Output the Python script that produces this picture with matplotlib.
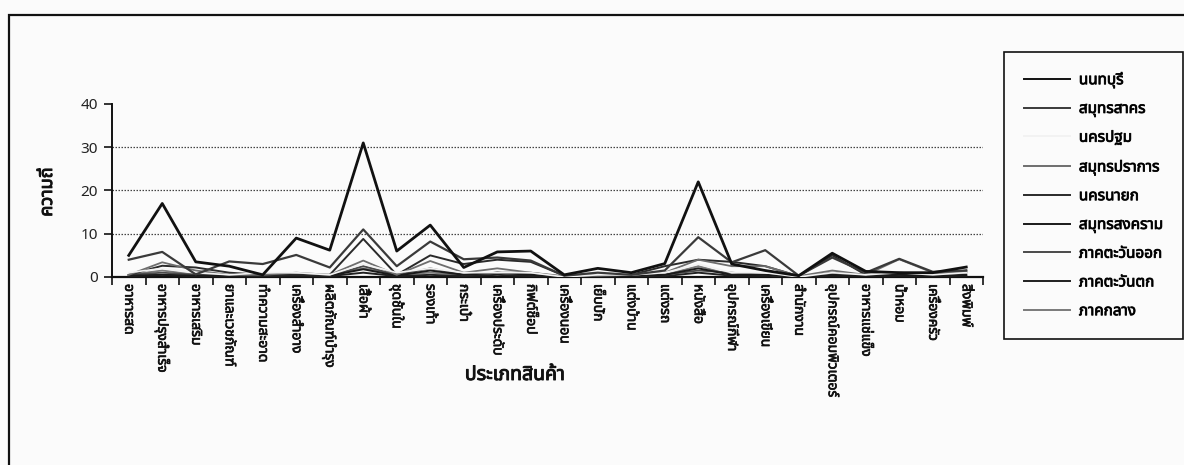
import matplotlib
matplotlib.use("Agg")
import matplotlib.pyplot as plt
from matplotlib import font_manager
from matplotlib.ft2font import FT2Font
from matplotlib.patches import Rectangle
import matplotlib.patheffects as pe
import numpy as np

# ---------- find a font with Thai glyphs ----------
def find_thai_family():
    seen = {}
    for f in font_manager.fontManager.ttflist:
        if f.name in seen:
            continue
        try:
            cm = FT2Font(f.fname).get_charmap()
        except Exception:
            continue
        if 0x0E01 in cm and 0x0E2A in cm:
            seen[f.name] = f.fname
    pref = ["Noto Sans Thai", "Noto Sans Thai UI", "Tahoma", "Loma", "Garuda", "Sarabun", "Norasi"]
    for p in pref:
        if p in seen:
            return p
    return next(iter(seen), None)

thai = find_thai_family()
fams = [thai, "DejaVu Sans"] if thai else ["DejaVu Sans"]
plt.rcParams["font.family"] = fams

# ---------- data ----------
categories = ["อาหารสด", "อาหารปรุงสำเร็จ", "อาหารเสริม", "ยาและเวชภัณฑ์", "ทำความสะอาด",
              "เครื่องสำอาง", "ผลิตภัณฑ์บำรุง", "เสื้อผ้า", "ชุดชั้นใน", "รองเท้า",
              "กระเป๋า", "เครื่องประดับ", "กิฟต์ช็อป", "เครื่องนอน", "เย็บปัก",
              "แต่งบ้าน", "แต่งรถ", "หนังสือ", "อุปกรณ์กีฬา", "เครื่องเขียน",
              "สำนักงาน", "อุปกรณ์คอมพิวเตอร์", "อาหารแช่แข็ง", "น้ำหอม", "เครื่องครัว",
              "สิ่งพิมพ์"]

series_names = ["นนทบุรี", "สมุทรสาคร", "นครปฐม", "สมุทรปราการ", "นครนายก",
                "สมุทรสงคราม", "ภาคตะวันออก", "ภาคตะวันตก", "ภาคกลาง"]

nonthaburi = [5, 17, 3.5, 2.5, 0.5, 9, 6.2, 31, 6, 12, 2.2, 5.8, 6, 0.5, 2, 1, 3.1, 22, 3, 1.5, 0.3, 5.5, 1.3, 1, 1, 2.3]
samutsakhon = [4, 5.8, 0.6, 3.6, 3, 5.1, 2.2, 11, 2.5, 8.2, 4.1, 4.5, 3.8, 0.3, 1, 0.5, 1.5, 9.2, 3.4, 6.2, 0.3, 4.5, 1, 4.2, 1.2, 1.5]
nakhonpathom = [1, 2, 1, 0.5, 1, 1, 0.5, 3, 1, 2, 1, 1, 1, 0, 0.5, 0.5, 1, 3, 1, 1, 0, 1, 0.5, 1, 0.5, 1]
samutprakan = [0.5, 3.4, 1.5, 0.5, 0.5, 1, 0.5, 3.8, 0.5, 3.7, 1, 2, 1, 0.2, 0.3, 0.5, 1, 4, 2.5, 2.5, 0.2, 1.5, 0.5, 4.1, 1, 1.2]
nakhonnayok = [0.5, 2.6, 2.2, 1, 0.5, 0.5, 0.5, 8.8, 0.5, 5, 3, 4, 3.5, 0.3, 0.3, 0.5, 2.5, 4, 3.5, 2.5, 0.2, 5, 0.5, 1, 0.5, 1.5]
samutsongkhram = [0.3, 0.5, 0.3, 0.3, 0.3, 0.3, 0.3, 1.8, 0.3, 1.5, 0.5, 1, 0.5, 0.1, 0.1, 0.2, 0.5, 2, 0.5, 0.5, 0, 0.5, 0.2, 0.5, 0.2, 0.5]
east = [0.5, 1, 0.5, 0.5, 0.3, 0.5, 0.3, 2.5, 0.5, 2, 0.5, 1, 1, 0, 0.2, 0.3, 0.5, 1.5, 1, 0.5, 0, 1, 0.5, 0.5, 0.5, 1]
west = [0.2, 0.5, 0.2, 0.2, 0.2, 0.2, 0.2, 1, 0.2, 0.5, 0.2, 0.5, 0.2, 0, 0, 0.1, 0.2, 1, 0.3, 0.3, 0, 0.3, 0.2, 0.3, 0.2, 0.3]
central = [0.5, 1.5, 0.5, 0.5, 0.5, 0.5, 0.5, 2, 0.5, 1, 0.5, 1, 0.5, 0, 0.2, 0.2, 0.5, 2.5, 0.5, 0.5, 0, 1, 0.3, 0.5, 0.3, 0.5]

all_series = [nonthaburi, samutsakhon, nakhonpathom, samutprakan, nakhonnayok,
              samutsongkhram, east, west, central]
colors = ["#111111", "#3a3a3a", "#f2f2f2", "#6e6e6e", "#2a2a2a",
          "#1a1a1a", "#4a4a4a", "#202020", "#7a7a7a"]
widths = [2.0, 1.6, 1.2, 1.3, 1.4, 1.4, 1.3, 1.4, 1.3]

bold = [pe.withStroke(linewidth=0.7, foreground="#111111")]

# ---------- figure ----------
W, H = 1184, 465
fig = plt.figure(figsize=(W / 100, H / 100), dpi=100)
fig.patch.set_facecolor("#fbfbfb")

# outer frame (right and bottom edges lie outside the picture)
fig.add_artist(Rectangle((9 / W, -0.2), 1.2, 1.2 - 15 / H,
                         transform=fig.transFigure, fill=False, edgecolor="#111111", lw=1.6))

ax_l, ax_r, ax_t, ax_b = 112, 983, 104, 277
ax = fig.add_axes([ax_l / W, 1 - ax_b / H, (ax_r - ax_l) / W, (ax_b - ax_t) / H])
ax.set_facecolor("none")

x = np.arange(len(categories))
lines = {}
for i in list(range(len(all_series)))[::-1]:
    ln, = ax.plot(x, all_series[i], color=colors[i], lw=widths[i], label=series_names[i],
                  zorder=3 + (len(all_series) - i) * 0.1)
    lines[i] = ln

ax.set_xlim(-0.5, len(categories) - 0.5)
ax.set_ylim(0, 40)
ax.set_yticks([0, 10, 20, 30, 40])
for gy in [10, 20, 30]:
    ax.axhline(gy, color="#444444", lw=0.9, ls=(0, (1.2, 1.2)), zorder=1)

ax.set_xticks(np.arange(len(categories) + 1) - 0.5, minor=False)
ax.set_xticklabels([])
ax.set_xticks(x, minor=True)
ax.set_xticklabels(categories, minor=True, rotation=-90, fontsize=10,
                   va="top", ha="center", color="#111111")
for t in ax.get_xticklabels(minor=True):
    t.set_path_effects([pe.withStroke(linewidth=0.5, foreground="#111111")])
ax.tick_params(axis="x", which="minor", length=0, pad=5)
ax.tick_params(axis="x", which="major", length=6, width=1.2, direction="out", color="#111111")
ax.tick_params(axis="y", length=6, width=1.2, direction="out", labelsize=11, pad=4,
               color="#111111", labelcolor="#222222")

for s in ["top", "right"]:
    ax.spines[s].set_visible(False)
ax.spines["left"].set_linewidth(1.4)
ax.spines["bottom"].set_linewidth(1.6)
ax.spines["left"].set_color("#111111")
ax.spines["bottom"].set_color("#111111")

fig.text(47 / W, 1 - 192 / H, "ความถี่", rotation=90, ha="center", va="center",
         fontsize=13, fontweight="bold", color="#111111", path_effects=bold)
fig.text(515 / W, 1 - 375 / H, "ประเภทสินค้า", ha="center", va="center",
         fontsize=14, fontweight="bold", color="#111111", path_effects=bold)

handles = [lines[i] for i in range(len(all_series))]
leg = fig.legend(handles, series_names, loc="upper left",
                 bbox_to_anchor=(1004 / W, 1 - 52 / H), frameon=True, fancybox=False,
                 edgecolor="#111111", facecolor="#fbfbfb", framealpha=1,
                 prop={"size": 11},
                 handlelength=3.0, handletextpad=0.6, labelspacing=0.9,
                 borderpad=1.3, borderaxespad=0)
leg.get_frame().set_linewidth(1.2)
for lh in leg.get_lines():
    lh.set_linewidth(1.4)
for t in leg.get_texts():
    t.set_path_effects([pe.withStroke(linewidth=0.6, foreground="#111111")])

fig.savefig("out.png", dpi=100, facecolor=fig.get_facecolor())
